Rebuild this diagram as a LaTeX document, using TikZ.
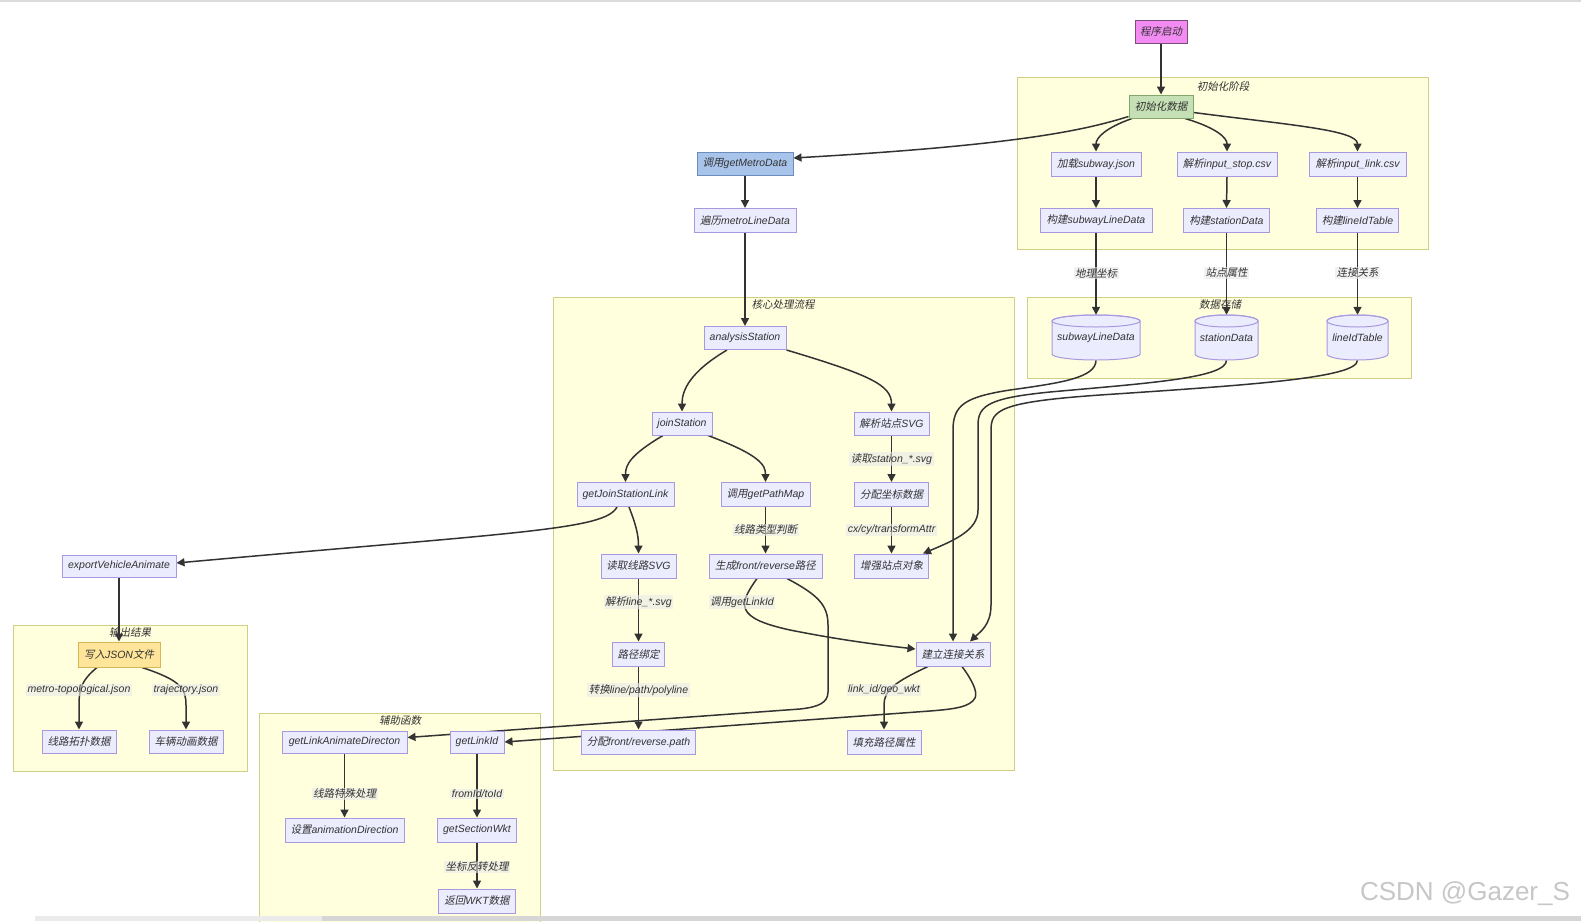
\documentclass[tikz,border=0pt]{standalone}
\usepackage{fontspec}
\setmainfont{Liberation Sans}
\newfontfamily\zhfont{Noto Sans CJK SC}[FakeSlant=0.2]
\newcommand\zh[1]{{\zhfont\upshape #1}}
\usetikzlibrary{arrows.meta,calc}
\pgfdeclarelayer{bg}
\pgfdeclarelayer{edgelayer}
\pgfsetlayers{bg,edgelayer,main}
\definecolor{nodefill}{HTML}{ECECFF}
\definecolor{nodeline}{HTML}{A898E0}
\definecolor{clfill}{HTML}{FFFFDE}
\definecolor{clline}{HTML}{D0D084}
\definecolor{edgec}{HTML}{333333}
\definecolor{txt}{HTML}{333333}
\definecolor{labelbg}{HTML}{E8E8E8}
\definecolor{startfill}{HTML}{F28CF2}
\definecolor{startline}{HTML}{7A4F7A}
\definecolor{initfill}{HTML}{C5E0B4}
\definecolor{initline}{HTML}{7FA86A}
\definecolor{metrofill}{HTML}{A9C4EB}
\definecolor{metroline}{HTML}{6C8EBF}
\definecolor{jsonfill}{HTML}{FFE599}
\definecolor{jsonline}{HTML}{D6B656}
\newcommand\dbshape[3]{%
  \pgfmathsetmacro\dbL{#1-#3/2}%
  \pgfmathsetmacro\dbR{#1+#3/2}%
  \pgfmathsetmacro\dbW{#3/2}%
  \pgfmathsetmacro\dbT{#2-16.5}%
  \pgfmathsetmacro\dbB{#2+16.5}%
  \path[draw=nodeline, fill=nodefill, line width=1pt] (\dbL,\dbT) -- (\dbL,\dbB)
    arc[start angle=180, end angle=0, x radius=\dbW, y radius=6] -- (\dbR,\dbT)
    arc[start angle=0, end angle=-180, x radius=\dbW, y radius=6] -- cycle;
  \draw[nodeline, line width=1pt] (#1,\dbT) ellipse[x radius=\dbW, y radius=6];}
\begin{document}
\begin{tikzpicture}[x=1pt,y=-1pt,
  every node/.style={font=\fontsize{10.5}{12}\selectfont\itshape, text=txt},
  box/.style={draw=nodeline, fill=nodefill, line width=1pt, minimum height=24pt, inner sep=0pt},
  bw/.style={minimum width=#1pt},
  cyltext/.style={inner sep=0pt, minimum height=45pt},
  cl/.style={draw=clline, fill=clfill, line width=1pt},
  cltitle/.style={inner sep=0pt},
  elabel/.style={fill=labelbg, fill opacity=0.6, text opacity=1, inner sep=1.5pt},
  flow/.style={draw=edgec, line width=1.5pt, -{Triangle[length=8pt,width=8pt]}}]
\useasboundingbox (0,0) rectangle (1581,921);

% ---------- clusters ----------
\begin{pgfonlayer}{bg}
\fill[white] (0,0) rectangle (1581,921);
\fill[black!14] (0,0) rectangle (1581,2);
\draw[cl] (1017,77) rectangle (1428,249);
\node[cltitle] (t1) at (1223,86) {\zh{初始化阶段}};
\draw[cl] (1027,297) rectangle (1411,378);
\node[cltitle] (t2) at (1220,305) {\zh{数据存储}};
\draw[cl] (553,297) rectangle (1014,770);
\node[cltitle] (t3) at (783,304) {\zh{核心处理流程}};
\draw[cl] (13,625) rectangle (247,771);
\node[cltitle] (t4) at (130,632) {\zh{输出结果}};
\draw[cl] (259,713) rectangle (540,930);
\node[cltitle] (t5) at (400,721) {\zh{辅助函数}};
\end{pgfonlayer}

% ---------- nodes ----------
\node[box,bw=52,fill=startfill,draw=startline,minimum height=23pt] (start) at (1161,31.5) {\zh{程序启动}};
\node[box,bw=64,fill=initfill,draw=initline,minimum height=23pt] (init) at (1161,106.5) {\zh{初始化数据}};
\node[box,bw=90] (loadjson) at (1096,164) {\zh{加载}subway.json};
\node[box,bw=100] (parsestop) at (1227,164) {\zh{解析}input\_stop.csv};
\node[box,bw=97] (parselink) at (1357.5,164) {\zh{解析}input\_link.csv};
\node[box,bw=112] (buildsub) at (1096,220.5) {\zh{构建}subwayLineData};
\node[box,bw=86] (buildsta) at (1226.5,220.5) {\zh{构建}stationData};
\node[box,bw=82] (buildlink) at (1357.5,220.5) {\zh{构建}lineIdTable};

\dbshape{1096}{337.5}{88}
\dbshape{1226.5}{337.5}{63}
\dbshape{1357.5}{337.5}{61}
\node[cyltext,bw=88] (cylsub) at (1096,337.5) {subwayLineData};
\node[cyltext,bw=63] (cylsta) at (1226.5,337.5) {stationData};
\node[cyltext,bw=61] (cyllink) at (1357.5,337.5) {lineIdTable};

\node[box,bw=96,fill=metrofill,draw=metroline,minimum height=23pt] (getmetro) at (745,163.5) {\zh{调用}getMetroData};
\node[box,bw=102] (traverse) at (745,220.5) {\zh{遍历}metroLineData};
\node[box,bw=82,minimum height=23pt] (analysis) at (745,338) {analysisStation};
\node[box,bw=60,minimum height=23pt] (join) at (682,423.5) {joinStation};
\node[box,bw=75,minimum height=23pt] (parsesvg) at (891.5,423.5) {\zh{解析站点}SVG};
\node[box,bw=97] (getjoin) at (625.5,494.5) {getJoinStationLink};
\node[box,bw=89] (getpath) at (765.5,494.5) {\zh{调用}getPathMap};
\node[box,bw=74] (assigncoord) at (891.5,494.5) {\zh{分配坐标数据}};
\node[box,bw=75] (readline) at (638.5,566) {\zh{读取线路}SVG};
\node[box,bw=113] (genpath) at (765.5,566) {\zh{生成}front/reverse\zh{路径}};
\node[box,bw=74] (enhance) at (891.5,566) {\zh{增强站点对象}};
\node[box,bw=52] (bind) at (638.5,654) {\zh{路径绑定}};
\node[box,bw=74] (buildconn) at (953,654) {\zh{建立连接关系}};
\node[box,bw=114] (assignpath) at (638.5,742) {\zh{分配}front/reverse.path};
\node[box,bw=74] (fillattr) at (884,742) {\zh{填充路径属性}};

\node[box,bw=114,minimum height=22pt] (export) at (119,566) {exportVehicleAnimate};
\node[box,bw=82,minimum height=25pt,fill=jsonfill,draw=jsonline] (writejson) at (119,654.5) {\zh{写入}JSON\zh{文件}};
\node[box,bw=74,minimum height=23pt] (topo) at (79,741.5) {\zh{线路拓扑数据}};
\node[box,bw=74,minimum height=23pt] (anim) at (186,741.5) {\zh{车辆动画数据}};

\node[box,bw=125,minimum height=22pt] (animdir) at (344.5,742) {getLinkAnimateDirecton};
\node[box,bw=54,minimum height=22pt] (getlinkid) at (477,742) {getLinkId};
\node[box,bw=119] (setdir) at (344.5,830) {\zh{设置}animationDirection};
\node[box,bw=79] (getwkt) at (477,830) {getSectionWkt};
\node[box,bw=77] (retwkt) at (477,901) {\zh{返回}WKT\zh{数据}};

% ---------- edges ----------
\begin{pgfonlayer}{edgelayer}
\draw[flow] (start.south) -- (init.north);
\draw[flow] ($(init.south west)+(0,-2)$) .. controls (1085,130) and (1020,145) .. ($(getmetro.east)+(0,-5.5)$);
\draw[flow] ($(init.south)+(-29,0)$) .. controls (1105,128) and (1096,138) .. (loadjson.north);
\draw[flow] ($(init.south)+(24,0)$) .. controls (1217,128) and (1227,138) .. (parsestop.north);
\draw[flow] ($(init.east)+(0,6)$) .. controls (1290,125) and (1357.5,130) .. (parselink.north);
\draw[flow] (loadjson.south) -- (buildsub.north);
\draw[flow] (parsestop.south) -- (buildsta.north);
\draw[flow] (parselink.south) -- (buildlink.north);
\draw[flow] (buildsub.south) -- (cylsub.north);
\draw[flow] (buildsta.south) -- (cylsta.north);
\draw[flow] (buildlink.south) -- (cyllink.north);

\draw[flow] (getmetro.south) -- (traverse.north);
\draw[flow] (traverse.south) -- (analysis.north);
\draw[flow] ($(analysis.south)+(-18,0)$) .. controls (690,372) and (682,390) .. (join.north);
\draw[flow] (analysis.south east) .. controls (870,375) and (891.5,385) .. (parsesvg.north);
\draw[flow] ($(join.south)+(-19,0)$) .. controls (630,455) and (625.5,465) .. (getjoin.north);
\draw[flow] ($(join.south)+(26,0)$) .. controls (760,455) and (765.5,465) .. (getpath.north);
\draw[flow] (parsesvg.south) -- (assigncoord.north);
\draw[flow] (getpath.south) -- (genpath.north);
\draw[flow] (assigncoord.south) -- (enhance.north);
\draw[flow] ($(getjoin.south)+(3.5,0)$) .. controls (636,525) and (638.5,535) .. (readline.north);
\draw[flow] ($(getjoin.south)+(-8.5,0)$) .. controls (605,530) and (520,532) .. ($(export.east)+(0,-3)$);
\draw[flow] (readline.south) -- (bind.north);
\draw[flow] (bind.south) -- (assignpath.north);
\draw[flow] ($(genpath.south)+(-8.5,0)$) .. controls (738,605) and (735,618) .. (790,630)
   .. controls (840,640) and (880,645) .. ($(buildconn.west)+(0,-5)$);
\draw[flow] ($(genpath.south)+(21.5,0)$) .. controls (818,595) and (828,605) .. (828,625) -- (828,692)
   .. controls (828,703) and (818,707) .. (800,709) -- ($(animdir.east)+(0,-4.5)$);
\draw[flow] ($(buildconn.south)+(-25,0)$) .. controls (895,682) and (884,690) .. (884,705) -- (fillattr.north);
\draw[flow] ($(buildconn.south)+(9,0)$) .. controls (972,680) and (978,692) .. (975,698)
   .. controls (970,707) and (955,709) .. (930,711) -- (getlinkid.east);
\draw[flow] (cylsub.south) .. controls (1096,378) and (1060,383) .. (1010,390)
   .. controls (965,397) and (953,405) .. (953,430) -- (buildconn.north);
\draw[flow] (cylsta.south) .. controls (1226.5,378) and (1150,383) .. (1050,392)
   .. controls (990,398) and (978,405) .. (978,425) -- (978,510)
   .. controls (978,530) and (955,540) .. ($(enhance.north east)+(-6,0)$);
\draw[flow] (cyllink.south) .. controls (1357.5,378) and (1250,385) .. (1100,395)
   .. controls (1000,402) and (991,410) .. (991,430) -- (991,605)
   .. controls (991,625) and (980,632) .. ($(buildconn.north)+(17,0)$);

\draw[flow] (export.south) -- (writejson.north);
\draw[flow] ($(writejson.south)+(-22,0)$) .. controls (82,680) and (79,688) .. (79,705) -- (topo.north);
\draw[flow] ($(writejson.south)+(23,0)$) .. controls (180,680) and (186,688) .. (186,705) -- (anim.north);
\draw[flow] (getlinkid.south) -- (getwkt.north);
\draw[flow] (getwkt.south) -- (retwkt.north);
\draw[flow] (animdir.south) -- (setdir.north);
\end{pgfonlayer}

% ---------- edge labels ----------
\node[elabel] (l1) at (1096,273) {\zh{地理坐标}};
\node[elabel] (l2) at (1226.5,273) {\zh{站点属性}};
\node[elabel] (l3) at (1357.5,273) {\zh{连接关系}};
\node[elabel] (l4) at (891.5,459) {\zh{读取}station\_*.svg};
\node[elabel] (l5) at (765.5,530) {\zh{线路类型判断}};
\node[elabel] (l6) at (891.5,530) {cx/cy/transformAttr};
\node[elabel] (l7) at (638.5,602) {\zh{解析}line\_*.svg};
\node[elabel] (l8) at (742,602) {\zh{调用}getLinkId};
\node[elabel] (l9) at (638.5,690) {\zh{转换}line/path/polyline};
\node[elabel] (l10) at (884,690) {link\_id/geo\_wkt};
\node[elabel] (l11) at (79,690) {metro-topological.json};
\node[elabel] (l12) at (186,690) {trajectory.json};
\node[elabel] (l13) at (344.5,794) {\zh{线路特殊处理}};
\node[elabel] (l14) at (477,794) {fromId/toId};
\node[elabel] (l15) at (477,867) {\zh{坐标反转处理}};

% ---------- screenshot frame & watermark ----------
\fill[black!16] (0,916) rectangle (1581,921);
\fill[black!8] (35,916) rectangle (322,921);
\fill[white] (0,916) rectangle (35,921);
\node[font=\fontsize{26}{28}\selectfont\upshape, text=black!22, inner sep=0pt] (wm) at (1465,894) {CSDN @Gazer\_S};
\end{tikzpicture}
\end{document}
